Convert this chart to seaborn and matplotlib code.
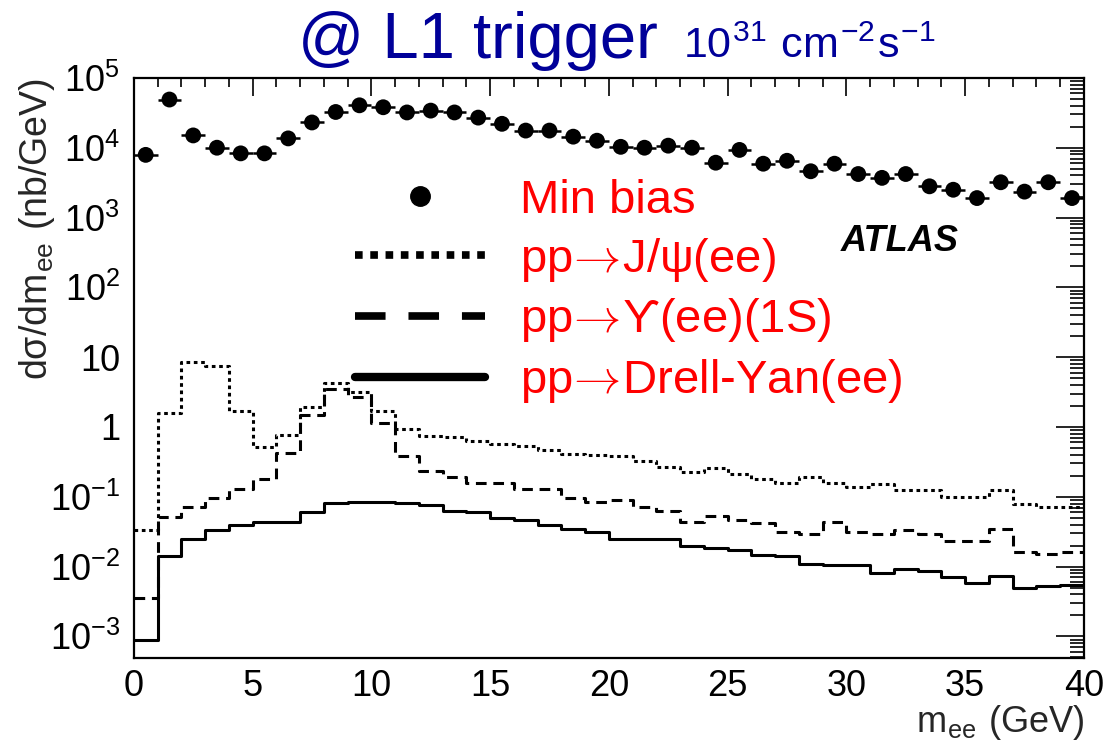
import numpy as np
import pandas as pd
import matplotlib
matplotlib.use("Agg")
import matplotlib.pyplot as plt
from matplotlib.lines import Line2D
from matplotlib.ticker import FixedLocator, LogLocator, FuncFormatter, MultipleLocator
import seaborn as sns

# ---------------- data ----------------
bin_edges = np.arange(0, 41, 1)          # m_ee bins (GeV)
bin_centers = bin_edges[:-1] + 0.5

min_bias = [7.9e3, 4.9e4, 1.5e4, 1.0e4, 8.3e3, 8.3e3, 1.36e4, 2.3e4, 3.25e4, 4.05e4,
            3.8e4, 3.2e4, 3.4e4, 3.2e4, 2.7e4, 2.2e4, 1.76e4, 1.76e4, 1.44e4, 1.26e4,
            1.03e4, 1.0e4, 1.07e4, 1.0e4, 6.1e3, 9.3e3, 5.9e3, 6.5e3, 4.6e3, 5.9e3,
            4.2e3, 3.7e3, 4.2e3, 2.8e3, 2.5e3, 1.9e3, 3.2e3, 2.35e3, 3.2e3, 1.9e3]

jpsi = [0.033, 1.6, 8.5, 7.4, 1.7, 0.51, 0.77, 1.95, 4.2, 3.2,
        1.7, 0.95, 0.74, 0.71, 0.62, 0.57, 0.54, 0.47, 0.41, 0.40,
        0.38, 0.33, 0.27, 0.23, 0.26, 0.21, 0.18, 0.16, 0.19, 0.155,
        0.14, 0.15, 0.123, 0.123, 0.10, 0.10, 0.123, 0.078, 0.072, 0.072]

upsilon = [0.0035, 0.052, 0.071, 0.095, 0.13, 0.18, 0.42, 1.5, 3.5, 2.65,
           1.13, 0.38, 0.235, 0.19, 0.16, 0.16, 0.13, 0.13, 0.095, 0.083,
           0.089, 0.072, 0.062, 0.044, 0.053, 0.047, 0.042, 0.031, 0.0295, 0.044,
           0.031, 0.0295, 0.033, 0.029, 0.023, 0.023, 0.035, 0.016, 0.015, 0.016]

drell_yan = [9e-4, 0.014, 0.025, 0.033, 0.040, 0.043, 0.044, 0.060, 0.081, 0.085,
             0.085, 0.081, 0.077, 0.063, 0.060, 0.050, 0.047, 0.040, 0.035, 0.031,
             0.025, 0.025, 0.025, 0.020, 0.0186, 0.017, 0.0148, 0.014, 0.011, 0.0105,
             0.0105, 0.0080, 0.0091, 0.0087, 0.0071, 0.0059, 0.0073, 0.0050, 0.0053, 0.0055]

legend_labels = ["Min bias", r"pp$\!\rightarrow\!$J/ψ(ee)", r"pp$\!\rightarrow\!$ϒ(ee)(1S)",
                 r"pp$\!\rightarrow\!$Drell-Yan(ee)"]
y_major = [1e-3, 1e-2, 1e-1, 1, 10, 1e2, 1e3, 1e4, 1e5]

# ---------------- style ----------------
sns.set_style("white")
plt.rcParams["font.family"] = ["Liberation Sans", "DejaVu Sans"]
plt.rcParams["mathtext.fontset"] = "cm"
plt.rcParams["axes.unicode_minus"] = False

fig = plt.figure(figsize=(11.06, 7.42), dpi=100)
ax = fig.add_axes([0.121, 0.1132, 0.859, 0.7818])
ax.set_yscale("log")

df = pd.DataFrame({"m": bin_centers, "jpsi": jpsi, "ups": upsilon, "dy": drell_yan,
                   "mb": min_bias})

lw = 2.2
hist_kw = dict(data=df, x="m", binwidth=1, binrange=(bin_edges[0], bin_edges[-1]),
               element="step", fill=False, color="black", linewidth=lw, ax=ax)
sns.histplot(weights="jpsi", linestyle=(0, (1.2, 1.2)), **hist_kw)
sns.histplot(weights="ups", linestyle=(0, (3.5, 2.2)), **hist_kw)
sns.histplot(weights="dy", linestyle="-", **hist_kw)

ax.errorbar(df["m"], df["mb"], xerr=0.5, fmt="none", ecolor="black", elinewidth=1.8, capsize=0)
sns.scatterplot(data=df, x="m", y="mb", color="black", s=130, edgecolor="none", ax=ax,
                zorder=5)

ax.set_xlim(0, 40)
ax.set_ylim(4.9e-4, 1e5)

# ticks
ax.xaxis.set_major_locator(MultipleLocator(5))
ax.xaxis.set_minor_locator(MultipleLocator(1))
ax.yaxis.set_major_locator(FixedLocator(y_major))
ax.yaxis.set_minor_locator(LogLocator(base=10, subs=np.arange(2, 10), numticks=30))


def yfmt(v, pos):
    e = int(round(np.log10(v)))
    if e == 0:
        return "1"
    if e == 1:
        return "10"
    return r"$\mathregular{10^{%d}}$" % e


ax.yaxis.set_major_formatter(FuncFormatter(yfmt))
ax.xaxis.set_major_formatter(FuncFormatter(lambda v, p: "%d" % v))

ax.tick_params(axis="both", which="both", direction="in", top=True, right=True,
               colors="black", width=1.2)
ax.tick_params(axis="x", which="major", length=13, labelsize=26, pad=8)
ax.tick_params(axis="x", which="minor", length=6.5)
ax.tick_params(axis="y", which="major", length=20, labelsize=26, pad=10)
ax.tick_params(axis="y", which="minor", length=10)
for s in ax.spines.values():
    s.set_linewidth(1.6)
    s.set_color("black")
    s.set_visible(True)

ax.set_xlabel(r"m$_{\mathregular{ee}}$ (GeV)", fontsize=26, loc="right")
ax.xaxis.set_label_coords(1.0, -0.1276)
ax.xaxis.label.set_verticalalignment("baseline")
ax.set_ylabel(r"dσ/dm$_{\mathregular{ee}}$ (nb/GeV)", fontsize=27, loc="top", labelpad=-5)

# legend
handles = [
    Line2D([], [], marker="o", ls="none", color="black", markersize=14),
    Line2D([], [], ls=(0, (1, 1)), lw=5.5, color="black", dash_capstyle="butt"),
    Line2D([], [], ls=(0, (4, 3)), lw=5.5, color="black", dash_capstyle="butt"),
    Line2D([], [], ls="-", lw=6, color="black"),
]
leg = ax.legend(handles, legend_labels, loc="upper left", bbox_to_anchor=(0.233, 0.826),
                frameon=False, fontsize=34, labelcolor="red", handlelength=2.75,
                handletextpad=0.75, labelspacing=0.27, borderpad=0, borderaxespad=0)

ax.text(0.806, 0.718, "ATLAS", transform=ax.transAxes, fontsize=26, fontweight="bold",
        fontstyle="italic", ha="center", va="center", color="black")

# title
fig.text(298 / 1106, 1 - 58 / 742, "@ L1 trigger", fontsize=47, color="#000099",
         ha="left", va="baseline")
fig.text(683 / 1106, 1 - 58 / 742,
         r"10$^{\mathregular{31}}$ cm$^{\mathregular{-2}}$s$^{\mathregular{-1}}$",
         fontsize=31, color="#000099", ha="left", va="baseline")

fig.savefig("out.png", dpi=100)
